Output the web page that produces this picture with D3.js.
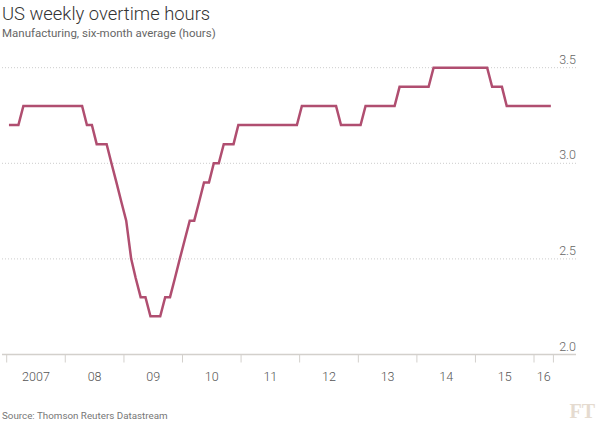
<!DOCTYPE html>
<html>
<head>
<meta charset="utf-8">
<script src="https://cdn.jsdelivr.net/npm/d3@7"></script>
<style>
  body { margin: 0; background: #fff; }
  svg { font-family: Roboto, "Open Sans", sans-serif; }
</style>
</head>
<body>
<svg width="600" height="422"></svg>
<script>
// monthly six-month average, Jan 2007 .. Apr 2016
let firstMonth = new Date(2007, 0, 1);
let hours = [
  3.2, 3.2, 3.2, 3.3, 3.3, 3.3, 3.3, 3.3, 3.3, 3.3, 3.3, 3.3,
  3.3, 3.3, 3.3, 3.3, 3.2, 3.2, 3.1, 3.1, 3.1, 3.0, 2.9, 2.8,
  2.7, 2.5, 2.4, 2.3, 2.3, 2.2, 2.2, 2.2, 2.3, 2.3, 2.4, 2.5,
  2.6, 2.7, 2.7, 2.8, 2.9, 2.9, 3.0, 3.0, 3.1, 3.1, 3.1, 3.2,
  3.2, 3.2, 3.2, 3.2, 3.2, 3.2, 3.2, 3.2, 3.2, 3.2, 3.2, 3.2,
  3.3, 3.3, 3.3, 3.3, 3.3, 3.3, 3.3, 3.3, 3.2, 3.2, 3.2, 3.2,
  3.2, 3.3, 3.3, 3.3, 3.3, 3.3, 3.3, 3.3, 3.4, 3.4, 3.4, 3.4,
  3.4, 3.4, 3.4, 3.5, 3.5, 3.5, 3.5, 3.5, 3.5, 3.5, 3.5, 3.5,
  3.5, 3.5, 3.5, 3.4, 3.4, 3.4, 3.3, 3.3, 3.3, 3.3, 3.3, 3.3,
  3.3, 3.3, 3.3, 3.3
];
let yTicks = [2.0, 2.5, 3.0, 3.5];
let yearLabels = ["2007", "08", "09", "10", "11", "12", "13", "14", "15", "16"];

let svg = d3.select("svg");

// points sit mid-month
let data = hours.map(function(v, i) {
  return { date: d3.timeDay.offset(d3.timeMonth.offset(firstMonth, i), 14), value: v };
});

let xStart = new Date(2007, 0, 1);
let xEnd = new Date(2016, 4, 1);

let x = d3.scaleTime()
  .domain([xStart, new Date(2016, 0, 1)])
  .range([6.7, 534]);

let y = d3.scaleLinear()
  .domain([2.0, 3.5])
  .range([354.5, 67.7]);

// title block
svg.append("text")
  .attr("x", 2).attr("y", 20)
  .attr("font-size", 18.4)
  .attr("font-weight", 300)
  .attr("fill", "#333")
  .text("US weekly overtime hours");

svg.append("text")
  .attr("x", 2).attr("y", 37)
  .attr("font-size", 11.5)
  .attr("fill", "#666")
  .text("Manufacturing, six-month average (hours)");

// gridlines + y labels
let grid = svg.append("g");
grid.selectAll("line")
  .data(yTicks.filter(d => d > 2.0))
  .join("line")
  .attr("x1", 2).attr("x2", 576)
  .attr("y1", d => y(d)).attr("y2", d => y(d))
  .attr("stroke", "#ccc")
  .attr("stroke-width", 1)
  .attr("stroke-dasharray", "1,2");

grid.selectAll("text")
  .data(yTicks)
  .join("text")
  .attr("x", 576)
  .attr("y", d => y(d) - 4)
  .attr("text-anchor", "end")
  .attr("font-size", 12.5)
  .attr("font-weight", 300)
  .attr("fill", "#666")
  .text(d => d3.format(".1f")(d));

// x axis
let tickDates = d3.timeYear.range(xStart, xEnd).concat([xEnd]);
let axis = svg.append("g");
axis.append("line")
  .attr("x1", 2).attr("x2", 576)
  .attr("y1", y(2.0)).attr("y2", y(2.0))
  .attr("stroke", "#d3d0cc")
  .attr("stroke-width", 1.5);

axis.selectAll(".tick")
  .data(tickDates)
  .join("line")
  .attr("class", "tick")
  .attr("x1", d => x(d)).attr("x2", d => x(d))
  .attr("y1", y(2.0)).attr("y2", y(2.0) + 8)
  .attr("stroke", "#d3d0cc")
  .attr("stroke-width", 1);

axis.selectAll(".yr")
  .data(yearLabels)
  .join("text")
  .attr("class", "yr")
  .attr("x", function(d, i) {
    let a = tickDates[i], b = tickDates[i + 1];
    return (x(a) + x(b)) / 2;
  })
  .attr("y", 381)
  .attr("text-anchor", "middle")
  .attr("font-size", 12.5)
  .attr("font-weight", 300)
  .attr("fill", "#555")
  .text(d => d);

// the line
let line = d3.line()
  .x(d => x(d.date))
  .y(d => y(d.value));

svg.append("path")
  .datum(data)
  .attr("d", line)
  .attr("fill", "none")
  .attr("stroke", "#b04e70")
  .attr("stroke-width", 2.5)
  .attr("stroke-linejoin", "miter");

// footer
svg.append("text")
  .attr("x", 2).attr("y", 419)
  .attr("font-size", 9.8)
  .attr("fill", "#777")
  .text("Source: Thomson Reuters Datastream");

svg.append("text")
  .attr("x", 595).attr("y", 418)
  .attr("text-anchor", "end")
  .style("font-family", "'Liberation Serif', 'DejaVu Serif', serif")
  .attr("font-weight", "bold")
  .attr("font-size", 20)
  .attr("fill", "#e5dbd0")
  .text("FT");
</script>
</body>
</html>
